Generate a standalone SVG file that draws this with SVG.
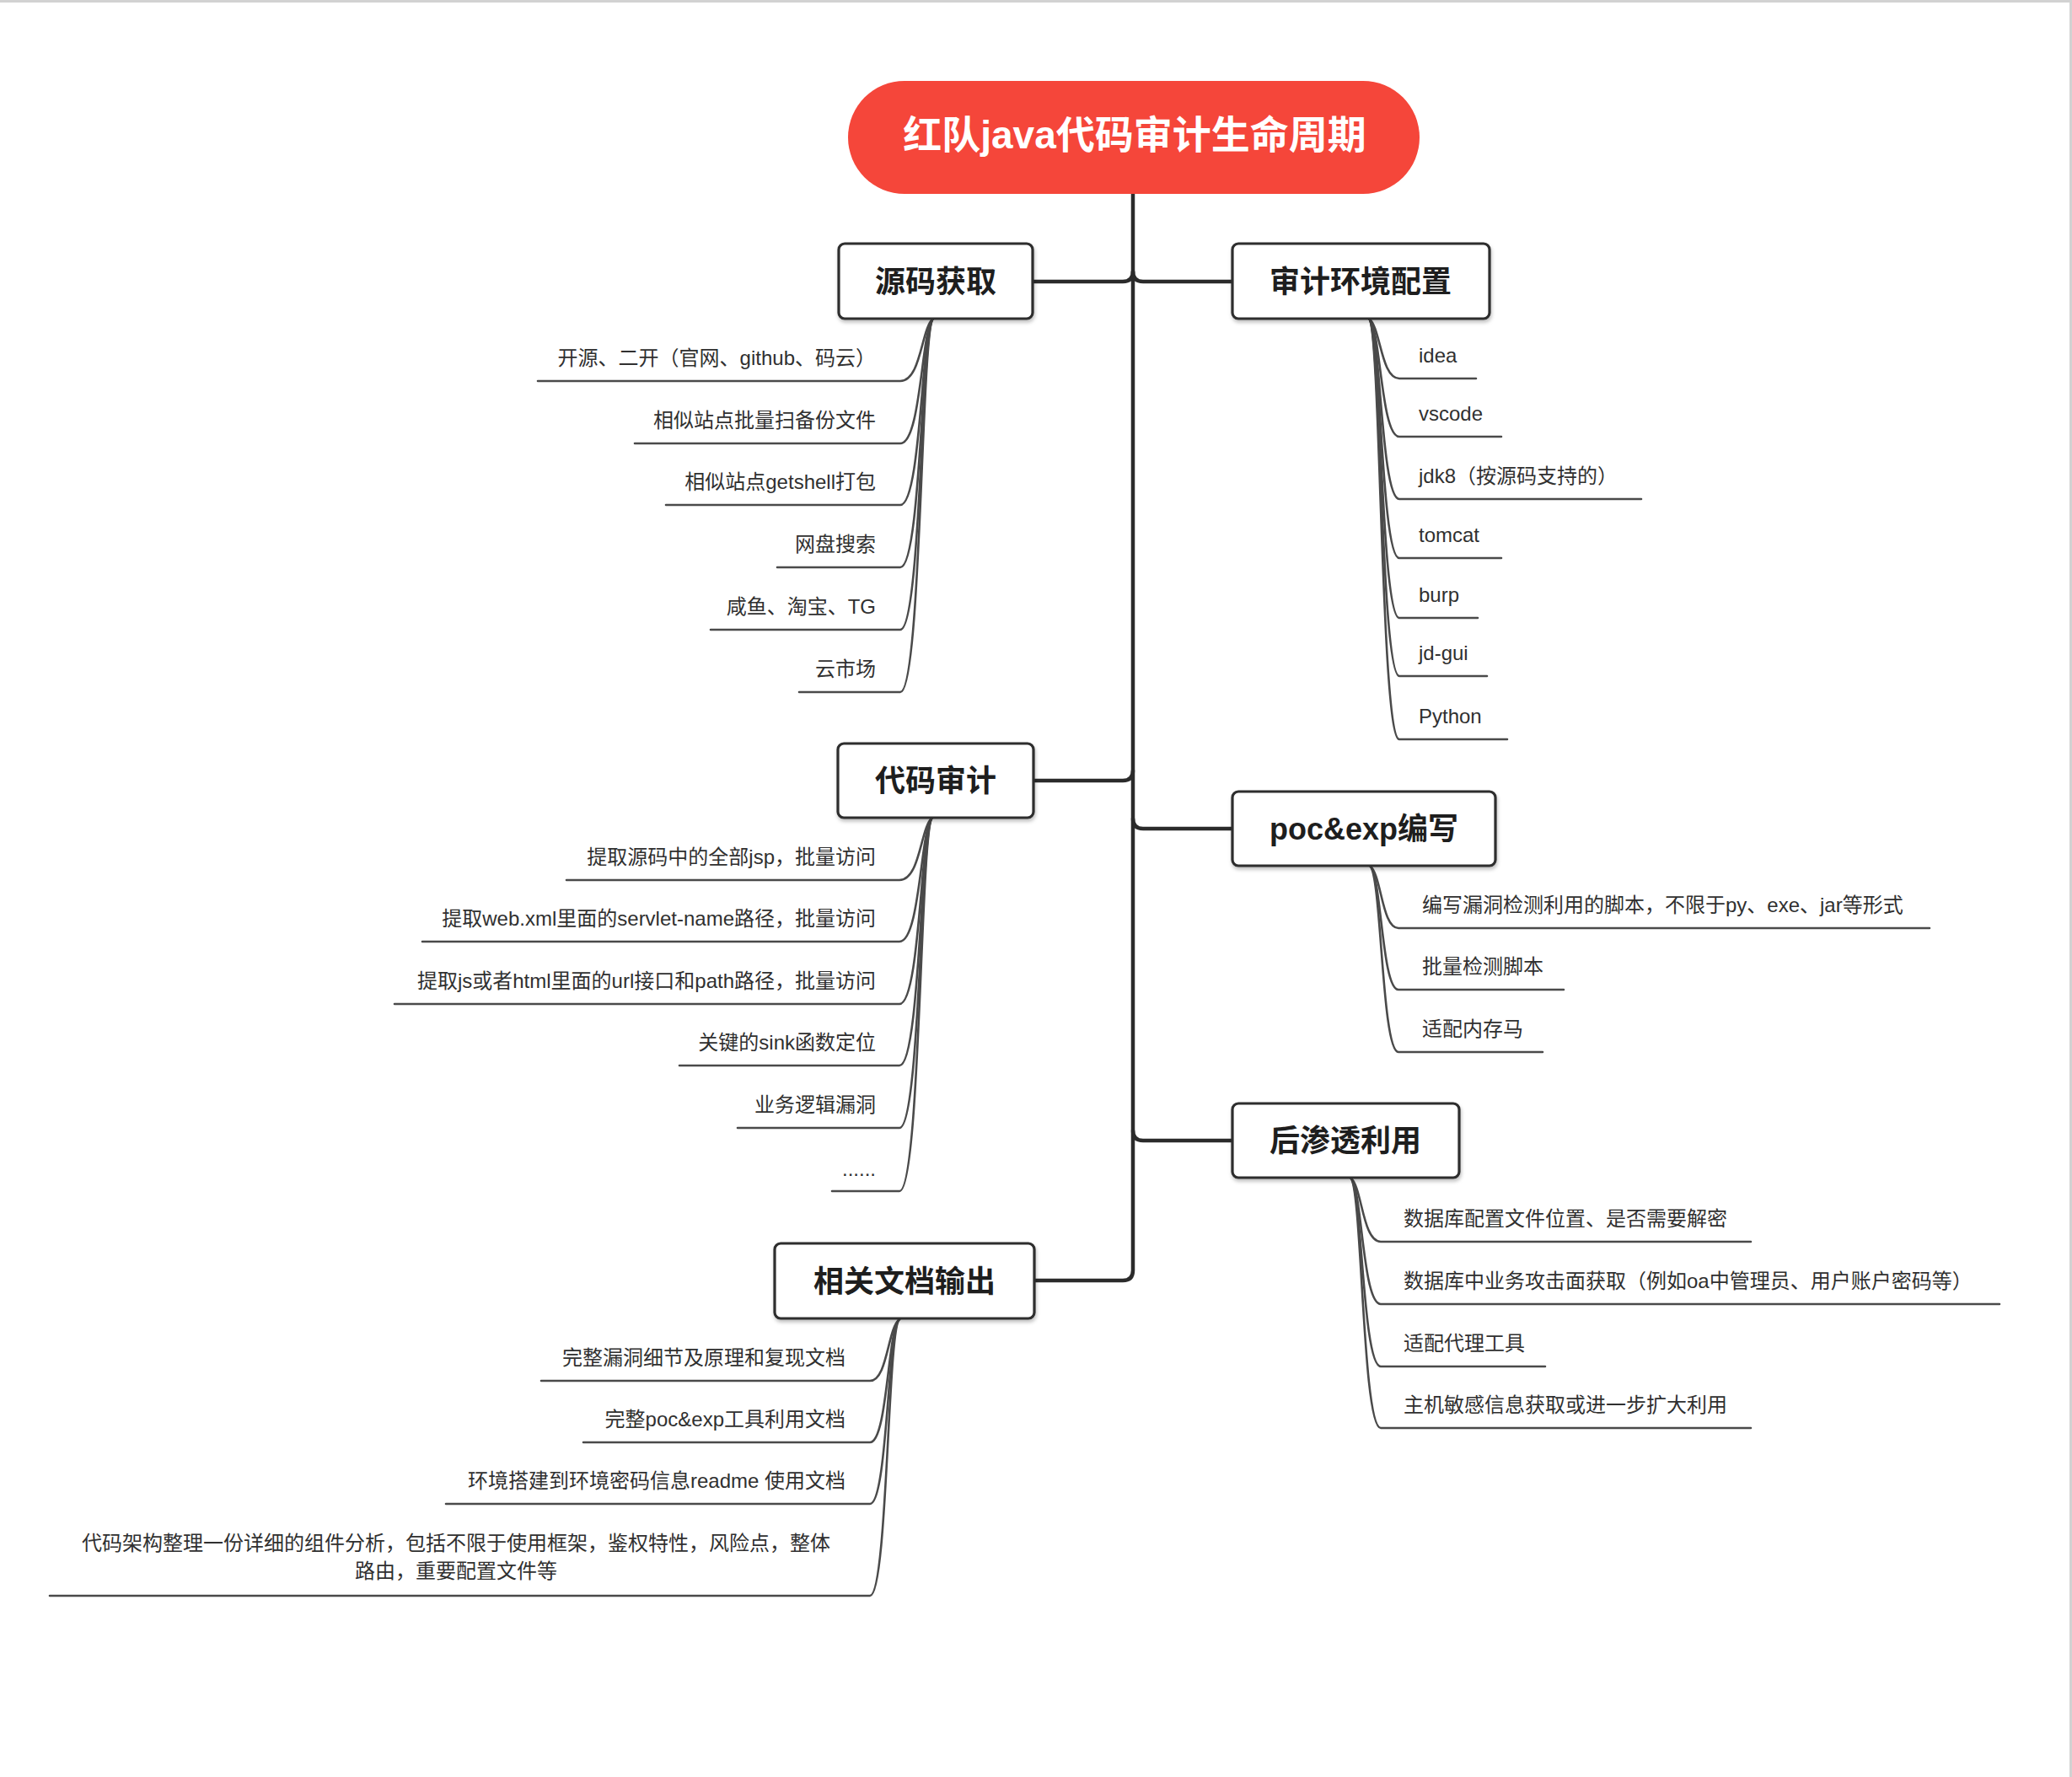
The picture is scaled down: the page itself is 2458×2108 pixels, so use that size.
<svg xmlns="http://www.w3.org/2000/svg" width="2458" height="2108" viewBox="0 0 2458 2108">
<defs>
<style>
.bg{fill:#ffffff}
.frame{stroke:#d2d2d2;stroke-width:3;fill:none}
.trunk{stroke:#2b2b2b;stroke-width:4.5;fill:none;stroke-linecap:round;stroke-linejoin:round}
.leaf{stroke:#4a4a4a;stroke-width:2.6;fill:none;stroke-linecap:round}
.box{fill:#ffffff;stroke:#2e2e2e;stroke-width:3.2}
.root{fill:#f5463a}
.tRoot{font-family:"Liberation Sans","Noto Sans CJK SC",sans-serif;font-size:46px;font-weight:bold;fill:#ffffff;text-anchor:middle}
.tBox{font-family:"Liberation Sans","Noto Sans CJK SC",sans-serif;font-size:36px;font-weight:bold;fill:#1e1e1e;text-anchor:middle}
.tL{font-family:"Liberation Sans","Noto Sans CJK SC",sans-serif;font-size:24px;fill:#303030;text-anchor:end}
.tR{font-family:"Liberation Sans","Noto Sans CJK SC",sans-serif;font-size:24px;fill:#303030;text-anchor:start}
.tM{font-family:"Liberation Sans","Noto Sans CJK SC",sans-serif;font-size:24px;fill:#303030;text-anchor:middle}
</style>
<filter id="sh" x="-10%" y="-10%" width="120%" height="130%">
<feDropShadow dx="1" dy="3" stdDeviation="2" flood-color="#000000" flood-opacity="0.25"/>
</filter>
</defs>
<rect class="bg" x="0" y="0" width="2458" height="2108"/>
<path class="frame" d="M0 1.5 H2456.5 V2108"/>

<g id="connectors">
<path class="trunk" d="M1344 230 L1344 1507 Q1344 1519 1332 1519 L1227 1519"/>
<path class="trunk" d="M1344 322 Q1344 334 1332 334 L1225 334"/>
<path class="trunk" d="M1344 322 Q1344 334 1356 334 L1462 334"/>
<path class="trunk" d="M1344 914 Q1344 926 1332 926 L1226 926"/>
<path class="trunk" d="M1344 971 Q1344 983 1356 983 L1462 983"/>
<path class="trunk" d="M1344 1341 Q1344 1353 1356 1353 L1462 1353"/>

<!-- 源码获取 leaves -->
<path class="leaf" d="M1107 378 C1093 388 1093 452 1068 452 L638 452"/>
<path class="leaf" d="M1107 378 C1093 388 1093 526 1068 526 L753 526"/>
<path class="leaf" d="M1107 378 C1093 388 1093 599 1068 599 L790 599"/>
<path class="leaf" d="M1107 378 C1093 388 1093 673 1068 673 L922 673"/>
<path class="leaf" d="M1107 378 C1093 388 1093 747 1068 747 L843 747"/>
<path class="leaf" d="M1107 378 C1093 388 1093 821 1068 821 L948 821"/>

<!-- 审计环境配置 leaves -->
<path class="leaf" d="M1624 378 C1638 388 1638 449 1660 449 L1751 449"/>
<path class="leaf" d="M1624 378 C1638 388 1638 518 1660 518 L1781 518"/>
<path class="leaf" d="M1624 378 C1638 388 1638 592 1660 592 L1947 592"/>
<path class="leaf" d="M1624 378 C1638 388 1638 662 1660 662 L1781 662"/>
<path class="leaf" d="M1624 378 C1638 388 1638 733 1660 733 L1753 733"/>
<path class="leaf" d="M1624 378 C1638 388 1638 802 1660 802 L1764 802"/>
<path class="leaf" d="M1624 378 C1638 388 1638 877 1660 877 L1788 877"/>

<!-- 代码审计 leaves -->
<path class="leaf" d="M1106 970 C1092 980 1092 1044 1067 1044 L672 1044"/>
<path class="leaf" d="M1106 970 C1092 980 1092 1117 1067 1117 L501 1117"/>
<path class="leaf" d="M1106 970 C1092 980 1092 1191 1067 1191 L468 1191"/>
<path class="leaf" d="M1106 970 C1092 980 1092 1264 1067 1264 L806 1264"/>
<path class="leaf" d="M1106 970 C1092 980 1092 1338 1067 1338 L875 1338"/>
<path class="leaf" d="M1106 970 C1092 980 1092 1413 1067 1413 L987 1413"/>

<!-- poc&exp编写 leaves -->
<path class="leaf" d="M1625 1027 C1639 1037 1639 1101 1659 1101 L2289 1101"/>
<path class="leaf" d="M1625 1027 C1639 1037 1639 1174 1659 1174 L1855 1174"/>
<path class="leaf" d="M1625 1027 C1639 1037 1639 1248 1659 1248 L1830 1248"/>

<!-- 后渗透利用 leaves -->
<path class="leaf" d="M1602 1397 C1616 1407 1616 1473 1638 1473 L2077 1473"/>
<path class="leaf" d="M1602 1397 C1616 1407 1616 1547 1638 1547 L2372 1547"/>
<path class="leaf" d="M1602 1397 C1616 1407 1616 1621 1638 1621 L1833 1621"/>
<path class="leaf" d="M1602 1397 C1616 1407 1616 1694 1638 1694 L2077 1694"/>

<!-- 相关文档输出 leaves -->
<path class="leaf" d="M1067 1565 C1053 1575 1053 1638 1032 1638 L642 1638"/>
<path class="leaf" d="M1067 1565 C1053 1575 1053 1711 1032 1711 L692 1711"/>
<path class="leaf" d="M1067 1565 C1053 1575 1053 1784 1032 1784 L529 1784"/>
<path class="leaf" d="M1067 1565 C1053 1575 1053 1893 1032 1893 L59 1893"/>
</g>

<g id="root">
<rect class="root" x="1006" y="96" width="678" height="134" rx="67" ry="67"/>
<text class="tRoot" x="1346" y="176">红队java代码审计生命周期</text>
</g>

<g id="n-source">
<rect class="box" filter="url(#sh)" x="995" y="289" width="230" height="89" rx="7"/>
<text class="tBox" x="1110" y="347">源码获取</text>
<text class="tL" x="1039" y="433">开源、二开（官网、github、码云）</text>
<text class="tL" x="1039" y="507">相似站点批量扫备份文件</text>
<text class="tL" x="1039" y="580">相似站点getshell打包</text>
<text class="tL" x="1039" y="654">网盘搜索</text>
<text class="tL" x="1039" y="728">咸鱼、淘宝、TG</text>
<text class="tL" x="1039" y="802">云市场</text>
</g>

<g id="n-env">
<rect class="box" filter="url(#sh)" x="1462" y="289" width="305" height="89" rx="7"/>
<text class="tBox" x="1614" y="347">审计环境配置</text>
<text class="tR" x="1683" y="430">idea</text>
<text class="tR" x="1683" y="499">vscode</text>
<text class="tR" x="1683" y="573">jdk8（按源码支持的）</text>
<text class="tR" x="1683" y="643">tomcat</text>
<text class="tR" x="1683" y="714">burp</text>
<text class="tR" x="1683" y="783">jd-gui</text>
<text class="tR" x="1683" y="858">Python</text>
</g>

<g id="n-audit">
<rect class="box" filter="url(#sh)" x="994" y="882" width="232" height="88" rx="7"/>
<text class="tBox" x="1110" y="939">代码审计</text>
<text class="tL" x="1039" y="1025">提取源码中的全部jsp，批量访问</text>
<text class="tL" x="1039" y="1098">提取web.xml里面的servlet-name路径，批量访问</text>
<text class="tL" x="1039" y="1172">提取js或者html里面的url接口和path路径，批量访问</text>
<text class="tL" x="1039" y="1245">关键的sink函数定位</text>
<text class="tL" x="1039" y="1319">业务逻辑漏洞</text>
<text class="tL" x="1039" y="1395">......</text>
</g>

<g id="n-poc">
<rect class="box" filter="url(#sh)" x="1462" y="939" width="312" height="88" rx="7"/>
<text class="tBox" x="1618" y="996">poc&amp;exp编写</text>
<text class="tR" x="1687" y="1082">编写漏洞检测利用的脚本，不限于py、exe、jar等形式</text>
<text class="tR" x="1687" y="1155">批量检测脚本</text>
<text class="tR" x="1687" y="1229">适配内存马</text>
</g>

<g id="n-post">
<rect class="box" filter="url(#sh)" x="1462" y="1309" width="269" height="88" rx="7"/>
<text class="tBox" x="1596" y="1366">后渗透利用</text>
<text class="tR" x="1665" y="1454">数据库配置文件位置、是否需要解密</text>
<text class="tR" x="1665" y="1528">数据库中业务攻击面获取（例如oa中管理员、用户账户密码等）</text>
<text class="tR" x="1665" y="1602">适配代理工具</text>
<text class="tR" x="1665" y="1675">主机敏感信息获取或进一步扩大利用</text>
</g>

<g id="n-docs">
<rect class="box" filter="url(#sh)" x="919" y="1475" width="308" height="89" rx="7"/>
<text class="tBox" x="1073" y="1533">相关文档输出</text>
<text class="tL" x="1003" y="1619">完整漏洞细节及原理和复现文档</text>
<text class="tL" x="1003" y="1692">完整poc&amp;exp工具利用文档</text>
<text class="tL" x="1003" y="1765">环境搭建到环境密码信息readme 使用文档</text>
<text class="tM" x="541" y="1839">代码架构整理一份详细的组件分析，包括不限于使用框架，鉴权特性，风险点，整体</text>
<text class="tM" x="541" y="1872">路由，重要配置文件等</text>
</g>
</svg>
